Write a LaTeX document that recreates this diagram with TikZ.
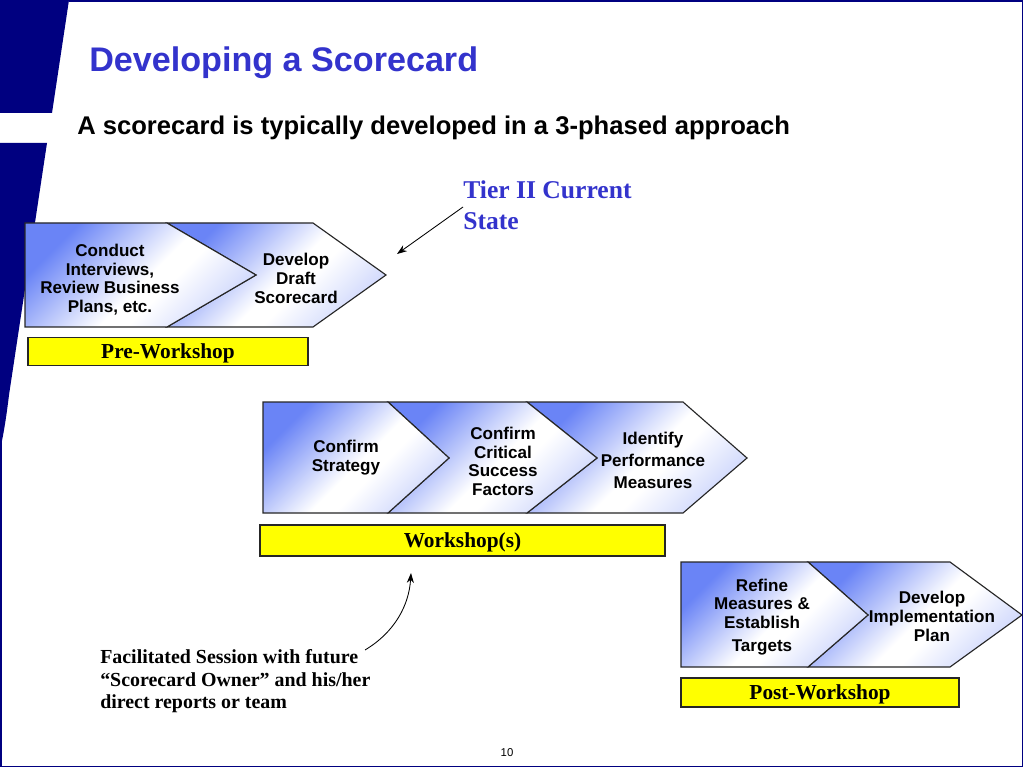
\documentclass[tikz,border=0pt]{standalone}
\usepackage{fontspec}
\setmainfont{Liberation Sans}
\newfontfamily\timesfont{Liberation Serif}
\usetikzlibrary{arrows.meta}
\definecolor{slide-navy}{HTML}{000080}
\definecolor{title-blue}{HTML}{3333CC}
\definecolor{chev-blue}{HTML}{6A84F6}
\definecolor{label-yellow}{HTML}{FFFF00}
\pgfdeclareverticalshading{chevshade}{100bp}{color(0bp)=(chev-blue!45); color(18bp)=(chev-blue!45);
  color(42bp)=(white); color(48bp)=(white); color(74bp)=(chev-blue); color(100bp)=(chev-blue)}

\begin{document}
\begin{tikzpicture}[x=0.703125pt, y=-0.703125pt,
        chev/.style={draw=black!85, line width=0.8pt, shade, shading=chevshade, shading angle=45},
        stage/.style={align=center, inner sep=0pt,
          font=\fontsize{12}{13.1}\selectfont\bfseries},
        phase/.style={draw=black!85, line width=0.8pt, fill=label-yellow, inner sep=0pt,
          text height=10pt, text depth=0pt,
          font=\timesfont\fontsize{15}{18}\selectfont\bfseries},
        note/.style={align=left, inner sep=0pt, font=\timesfont\bfseries},
        >={Stealth[length=7pt, width=5pt]}]
      \useasboundingbox (0,0) rectangle (1024,768);
      \fill[slide-navy] (0,0) -- (69,0) -- (52,113) -- (0,113) -- cycle;
      \fill[slide-navy] (0,143) -- (47,143) -- (9,395) .. controls (6,420) and (3,437) .. (0,450) -- cycle;
      \draw[slide-navy, line width=1.2pt] (69,1) -- (1022.5,1) -- (1022.5,766.5) -- (0.8,766.5) -- (0.8,440);
      \node[anchor=west, inner sep=0pt, text=title-blue, font=\fontsize{24}{29}\selectfont\bfseries]
        (title) at (89,63) {Developing a Scorecard};
      \node[anchor=west, inner sep=0pt, font=\fontsize{18}{21}\selectfont\bfseries]
        (subtitle) at (77,128) {A scorecard is typically developed in a 3-phased approach};
      \draw[chev] (167,223) -- (313,223) -- (386,275) -- (313,327) -- (167,327) -- (256,275) -- cycle;
      \draw[chev] (25,223) -- (167,223) -- (256,275) -- (167,327) -- (25,327) -- cycle;
      \node[stage] (conduct) at (110,279.5) {Conduct\\Interviews,\\Review Business\\Plans, etc.};
      \node[stage] (draft) at (296,278.5) {Develop\\Draft\\Scorecard};
      \node[phase, minimum width=196.9pt, minimum height=19.3pt] (pre) at (168,351.5) {Pre-Workshop};
      \draw[chev] (527,402) -- (683,402) -- (747,458) -- (683,513) -- (527,513) -- (597,458) -- cycle;
      \draw[chev] (388,402) -- (527,402) -- (597,458) -- (527,513) -- (388,513) -- (449,458) -- cycle;
      \draw[chev] (263,402) -- (388,402) -- (449,458) -- (388,513) -- (263,513) -- cycle;
      \node[stage] (strategy) at (346,457.5) {Confirm\\Strategy};
      \node[stage] (factors) at (503,461.5) {Confirm\\Critical\\Success\\Factors};
      \node[stage, font=\fontsize{12}{15.5}\selectfont\bfseries] (measures) at (653,460.5) {Identify\\Performance\\Measures};
      \node[phase, minimum width=284.8pt, minimum height=21.8pt] (workshop) at (462.5,540.5) {Workshop(s)};
      \draw[chev] (808,562) -- (950,562) -- (1022,615) -- (950,667) -- (808,667) -- (868,615) -- cycle;
      \draw[chev] (681,562) -- (808,562) -- (868,615) -- (808,667) -- (681,667) -- cycle;
      \node[stage] (refine) at (762,617) {Refine\\Measures \&\\Establish\\[3pt]Targets};
      \node[stage] (plan) at (932,616.5) {Develop\\Implementation\\Plan};
      \node[phase, minimum width=195.5pt, minimum height=20.4pt] (post) at (820,692.5) {Post-Workshop};
      \node[note, anchor=west, text=title-blue, font=\timesfont\fontsize{18}{21.8}\selectfont\bfseries]
        (tier) at (463,205) {Tier II Current\\State};
      \coordinate (tier-tip) at (397,254);
      \draw[semithick, ->] (tier.west) ++(0,2) -- (tier-tip);
      \node[note, anchor=west, font=\timesfont\fontsize{14}{15.8}\selectfont\bfseries]
        (session) at (100,681.5) {Facilitated Session with future\\“Scorecard Owner” and his/her\\direct reports or team};
      \coordinate (session-end) at (365,650);
      \coordinate (session-tip) at (411,573);
      \draw[semithick, ->] (session-end) .. controls (395,632) and (409,605) .. (session-tip);
      \node[inner sep=0pt, font=\fontsize{8}{9}\selectfont] (page) at (507,753) {10};
    \end{tikzpicture}
\end{document}
